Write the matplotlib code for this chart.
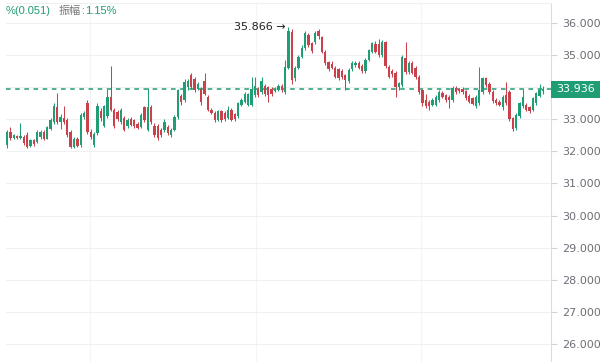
import numpy as np
import matplotlib
matplotlib.use("Agg")
import matplotlib.pyplot as plt
from matplotlib.patches import Rectangle

# OHLC
opens = [32.2, 32.6, 32.42, 32.48, 32.42, 32.46, 32.5, 32.18, 32.36, 32.3,
         32.45, 32.6, 32.4, 32.7, 32.9, 33.37, 32.9, 33.05, 32.98, 32.6,
         32.15, 32.4, 32.2, 33.08, 33.5, 32.6, 32.2, 32.56, 33.27, 32.8,
         33.1, 33.7, 33.3, 33.24, 32.9, 33.03, 32.78, 33.02, 32.98, 32.85,
         32.77, 33.37, 32.68, 33.37, 32.8, 32.78, 32.66, 32.67, 32.76, 32.52,
         32.68, 33.08, 33.72, 33.6, 34.0, 34.38, 34.25, 33.95, 33.95, 34.2,
         33.7, 33.3, 33.2, 32.98, 33.25, 33.2, 33.05, 33.3, 33.15, 33.1,
         33.45, 33.55, 33.45, 33.45, 33.75, 33.95, 33.85, 34.05, 34.0, 33.95,
         33.88, 33.9, 34.05, 33.86, 34.6, 35.73, 34.28, 34.6, 34.95, 35.22,
         35.63, 35.38, 35.4, 35.75, 35.56, 35.1, 34.78, 34.72, 34.6, 34.55,
         34.5, 34.38, 34.18, 34.55, 34.68, 34.75, 34.65, 34.5, 34.85, 35.1,
         35.35, 35.35, 35.0, 35.4, 34.64, 34.5, 34.44, 34.0, 34.07, 34.9,
         34.47, 34.75, 34.6, 34.33, 33.91, 33.6, 33.55, 33.45, 33.45, 33.6,
         33.82, 33.75, 33.7, 33.6, 33.97, 33.93, 33.95, 33.88, 33.72, 33.65,
         33.4, 33.5, 33.86, 34.28, 34.1, 33.86, 33.6, 33.55, 33.38, 33.75,
         33.86, 33.03, 32.72, 33.1, 33.4, 33.45, 33.38, 33.3, 33.5, 33.72,
         33.88]
highs = [32.65, 32.77, 32.55, 32.52, 32.87, 32.5, 32.6, 32.4, 32.4, 32.65,
         32.68, 32.65, 32.8, 33.05, 33.5, 33.83, 33.15, 33.4, 33.05, 32.65,
         32.45, 32.45, 33.2, 33.25, 33.6, 32.7, 32.6, 33.5, 33.35, 33.45,
         33.95, 34.66, 33.35, 33.3, 33.35, 33.1, 33.05, 33.08, 33.02, 32.9,
         33.2, 33.42, 33.97, 33.45, 32.88, 32.85, 32.72, 33.0, 32.82, 32.72,
         33.12, 33.95, 33.8, 34.25, 34.25, 34.45, 34.3, 34.15, 34.0, 34.45,
         33.75, 33.35, 33.25, 33.3, 33.3, 33.25, 33.42, 33.35, 33.2, 33.55,
         33.65, 33.85, 33.82, 34.32, 34.3, 34.0, 34.3, 34.1, 34.05, 34.0,
         34.0, 34.1, 34.1, 34.85, 35.866, 35.8, 34.65, 35.0, 35.3, 35.75,
         35.68, 35.42, 35.75, 35.82, 35.6, 35.15, 34.82, 34.8, 34.65, 34.6,
         34.58, 34.42, 34.6, 34.8, 34.8, 34.8, 34.72, 34.9, 35.2, 35.42,
         35.45, 35.5, 35.47, 35.45, 34.7, 34.55, 34.5, 34.15, 35.0, 35.4,
         34.82, 34.8, 34.65, 34.38, 33.95, 33.8, 33.6, 33.65, 33.75, 33.92,
         33.88, 33.8, 33.75, 34.02, 34.05, 33.98, 34.0, 33.92, 33.78, 33.7,
         33.75, 34.64, 34.32, 34.32, 34.15, 33.9, 33.65, 33.6, 33.75, 34.17,
         33.9, 33.08, 33.18, 33.55, 33.95, 33.5, 33.42, 33.7, 33.86, 34.1,
         34.05]
lows = [32.1, 32.36, 32.38, 32.38, 32.4, 32.2, 32.1, 32.12, 32.18, 32.25,
        32.4, 32.35, 32.38, 32.65, 32.85, 32.85, 32.7, 32.85, 32.45, 32.1,
        32.1, 32.12, 32.15, 33.0, 32.55, 32.4, 32.15, 32.5, 32.95, 32.75,
        33.05, 33.25, 32.72, 32.95, 32.85, 32.62, 32.72, 32.78, 32.72, 32.7,
        32.72, 32.92, 32.62, 32.85, 32.45, 32.35, 32.45, 32.6, 32.5, 32.45,
        32.62, 33.0, 33.45, 33.55, 33.9, 33.95, 33.85, 33.9, 33.45, 33.75,
        33.25, 33.15, 32.92, 32.95, 32.92, 32.95, 33.0, 32.95, 32.95, 33.05,
        33.4, 33.5, 33.4, 33.4, 33.7, 33.7, 33.8, 33.72, 33.55, 33.72,
        33.85, 33.88, 33.85, 33.8, 34.55, 34.1, 34.2, 34.55, 34.9, 35.15,
        35.25, 35.05, 35.35, 35.5, 35.05, 34.7, 34.5, 34.55, 34.28, 34.22,
        34.25, 33.91, 34.12, 34.5, 34.62, 34.55, 34.45, 34.45, 34.8, 35.05,
        35.05, 34.95, 34.95, 34.6, 34.28, 34.3, 33.7, 33.92, 34.0, 34.42,
        34.42, 34.4, 34.25, 33.8, 33.42, 33.35, 33.3, 33.4, 33.4, 33.55,
        33.65, 33.55, 33.35, 33.55, 33.8, 33.83, 33.8, 33.6, 33.5, 33.45,
        33.35, 33.45, 33.8, 34.0, 33.8, 33.5, 33.45, 33.4, 33.3, 33.45,
        32.95, 32.62, 32.66, 33.05, 33.35, 33.25, 33.2, 33.25, 33.45, 33.68,
        33.8]
closes = [32.6, 32.42, 32.5, 32.42, 32.48, 32.25, 32.15, 32.35, 32.22, 32.6,
          32.6, 32.38, 32.75, 32.98, 33.4, 32.9, 33.08, 32.9, 32.5, 32.15,
          32.4, 32.18, 33.13, 33.2, 32.6, 32.45, 32.55, 33.4, 33.03, 33.4,
          33.7, 33.3, 32.78, 33.0, 33.3, 32.68, 32.98, 32.82, 32.78, 32.74,
          33.12, 32.98, 33.38, 32.9, 32.52, 32.42, 32.52, 32.92, 32.56, 32.67,
          33.08, 33.9, 33.55, 34.17, 34.2, 34.0, 33.9, 34.1, 33.55, 33.8,
          33.3, 33.2, 32.98, 33.25, 32.98, 33.02, 33.3, 32.98, 33.0, 33.5,
          33.6, 33.78, 33.78, 33.95, 34.05, 33.75, 34.2, 33.8, 33.75, 33.8,
          33.95, 34.05, 33.9, 34.64, 35.75, 34.22, 34.6, 34.95, 35.22, 35.68,
          35.32, 35.12, 35.69, 35.58, 35.1, 34.75, 34.55, 34.6, 34.33, 34.28,
          34.3, 34.22, 34.54, 34.75, 34.75, 34.6, 34.5, 34.85, 35.16, 35.38,
          35.1, 35.0, 35.42, 34.65, 34.33, 34.4, 34.0, 34.12, 34.95, 34.47,
          34.75, 34.45, 34.3, 33.86, 33.5, 33.4, 33.4, 33.6, 33.7, 33.86,
          33.7, 33.6, 33.6, 33.97, 33.85, 33.88, 33.85, 33.66, 33.55, 33.48,
          33.7, 33.9, 34.28, 34.07, 33.86, 33.56, 33.52, 33.45, 33.7, 33.5,
          33.0, 32.7, 33.13, 33.5, 33.7, 33.3, 33.25, 33.65, 33.82, 33.91,
          33.936]

last_price = 33.936
high_price = 35.866
high_idx = 84
y_ticks = [26, 27, 28, 29, 30, 31, 32, 33, 34, 35, 36]
day_lines = [24.8, 74.3, 123.6]

GREEN = '#1f9d74'
RED = '#c9424b'

plt.rcParams['font.family'] = ['DejaVu Sans', 'Noto Sans CJK SC']

fig = plt.figure(figsize=(6, 3.62), dpi=100)
ax = fig.add_axes([6 / 600, 0, 545 / 600, 359 / 362])

o = np.array(opens)
h = np.array(highs)
l = np.array(lows)
c = np.array(closes)
x = np.arange(len(o))
up = c >= o
colors = np.where(up, GREEN, RED)

ax.vlines(x, l, h, colors=colors, linewidth=0.75, zorder=3)
body_low = np.minimum(o, c)
body_h = np.maximum(np.abs(c - o), 0.03)
ax.bar(x, body_h, bottom=body_low, width=0.7, color=colors, linewidth=0, zorder=4)

# последняя цена
ax.axhline(last_price, color=GREEN, linestyle=(0, (3, 3)), linewidth=1.1, zorder=2)
ax.add_patch(Rectangle((1.0, last_price - 0.26), 49 / 545, 0.52,
                       transform=ax.get_yaxis_transform(), clip_on=False,
                       facecolor=GREEN, edgecolor='none', zorder=5))
ax.text(1.0 + 25 / 545, last_price, f'{last_price:.3f}', transform=ax.get_yaxis_transform(),
        ha='center', va='center', color='white', fontsize=8, zorder=6, clip_on=False)

# максимум
ax.annotate(f'{high_price:.3f} →', xy=(high_idx - 0.9, high_price), ha='right', va='center',
            fontsize=8, color='#222222')

ax.set_xlim(-0.3, 162.4)
ax.set_ylim(25.44, 36.62)
ax.set_yticks(y_ticks)
# подпись 34.000 закрыта плашкой с ценой
ax.set_yticklabels(['' if v == 34 else f'{v:.3f}' for v in y_ticks])
ax.set_xticks(day_lines)
ax.set_xticklabels([])
ax.yaxis.tick_right()
ax.tick_params(axis='y', direction='out', length=4, width=0.8, color='#d0d3d8',
               labelcolor='#6b6f76', labelsize=8, pad=4)
ax.tick_params(axis='x', length=0)
ax.grid(axis='y', color='#eef0f3', linewidth=0.8, zorder=0)
ax.grid(axis='x', color='#f3f4f6', linewidth=0.8, zorder=0)
for side in ['left', 'bottom']:
    ax.spines[side].set_visible(False)
ax.spines['top'].set_color('#eef0f3')
ax.spines['top'].set_linewidth(0.8)
ax.spines['right'].set_color('#d9dce1')
ax.spines['right'].set_linewidth(0.8)

# строка сверху
top_y = 1 - 11 / 362
r = fig.canvas.get_renderer()


def after(prev, gap, text, color, family):
    bb = prev.get_window_extent(r)
    return fig.text((bb.x1 + gap) / 600, top_y, text, color=color, fontsize=8,
                    va='center', family=family)


t1 = fig.text(6 / 600, top_y, '%(0.051)', color=GREEN, fontsize=8, va='center',
              family=['Liberation Sans', 'DejaVu Sans'])
t2 = after(t1, 8, '振幅', '#777777', ['Noto Sans CJK SC', 'DejaVu Sans'])
t3 = after(t2, 0.5, ':', '#777777', ['Liberation Sans', 'DejaVu Sans'])
after(t3, 0.5, '1.15%', GREEN, ['Liberation Sans', 'DejaVu Sans'])

fig.savefig('out.png', dpi=100)
